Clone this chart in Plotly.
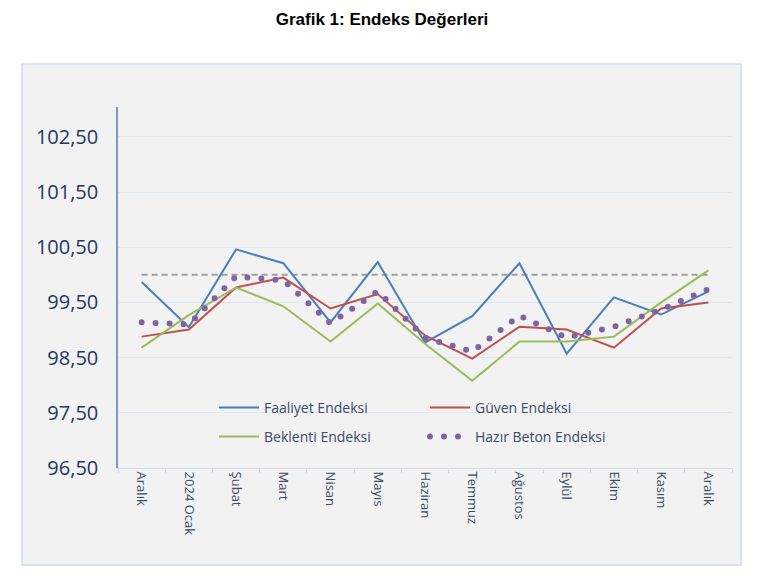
import plotly.graph_objects as go

months = ["Aralık", "2024 Ocak", "Şubat", "Mart", "Nisan", "Mayıs", "Haziran",
          "Temmuz", "Ağustos", "Eylül", "Ekim", "Kasım", "Aralık"]
faaliyet = [99.87, 99.05, 100.46, 100.21, 99.14, 100.23, 98.77, 99.25, 100.21, 98.57, 99.59, 99.28, 99.70]
guven = [98.88, 99.01, 99.77, 99.95, 99.39, 99.65, 98.90, 98.48, 99.06, 99.01, 98.68, 99.39, 99.50]
beklenti = [98.68, 99.27, 99.77, 99.43, 98.79, 99.48, 98.75, 98.08, 98.79, 98.79, 98.88, 99.50, 100.08]
hazir_beton = [99.14, 99.10, 99.97, 99.90, 99.12, 99.70, 98.86, 98.61, 99.26, 98.86, 99.06, 99.37, 99.74]
reference_level = 100.0
y_ticks = [96.5, 97.5, 98.5, 99.5, 100.5, 101.5, 102.5]

x = list(range(len(months)))
boundaries = [i - 0.5 for i in range(len(months) + 1)]

PURPLE = "rgb(128,100,162)"

fig = go.Figure()
fig.add_trace(go.Scatter(x=x, y=[reference_level] * len(months), mode="lines",
                         line=dict(color="#a0a0a0", width=2, dash="6px,4px"),
                         showlegend=False, hoverinfo="skip"))
fig.add_trace(go.Scatter(x=x, y=faaliyet, mode="lines", name="Faaliyet Endeksi",
                         line=dict(color="#4a7ebb", width=2), legend="legend"))
fig.add_trace(go.Scatter(x=x, y=guven, mode="lines", name="Güven Endeksi",
                         line=dict(color="#c0504d", width=2), legend="legend"))
fig.add_trace(go.Scatter(x=x, y=beklenti, mode="lines", name="Beklenti Endeksi",
                         line=dict(color="#9bbb59", width=2), legend="legend2"))
fig.add_trace(go.Scatter(x=x, y=hazir_beton, mode="lines", name="Hazır Beton Endeksi",
                         line=dict(color=PURPLE, width=6, dash="0px,14px"), legend="legend2"))

L, R, T, B = 118, 34, 107, 109
W, H = 766, 577
pw, ph = W - L - R, H - T - B

def px_x(p):
    return (p - L) / pw

def px_y(p):
    return (H - B - p) / ph

fig.add_shape(type="rect", xref="paper", yref="paper",
              x0=px_x(22), x1=px_x(741), y0=px_y(565), y1=px_y(64),
              fillcolor="#f2f2f2", line=dict(color="#cfdcec", width=1.5), layer="below")

legend_common = dict(orientation="h", xanchor="left", yanchor="middle",
                     bgcolor="rgba(0,0,0,0)", entrywidth=156, entrywidthmode="pixels",
                     font=dict(family="Open Sans", size=14, color="#3b4a66"),
                     itemwidth=40, tracegroupgap=0)

fig.update_layout(
    width=W, height=H,
    margin=dict(l=L, r=R, t=T, b=B),
    paper_bgcolor="white",
    plot_bgcolor="rgba(0,0,0,0)",
    separators=",.",
    title=dict(text="<b>Grafik 1: Endeks Değerleri</b>", x=382 / W, xref="container", xanchor="center",
               y=1 - 19 / H, yanchor="middle",
               font=dict(family="Liberation Sans", size=17, color="black")),
    legend=dict(x=px_x(214), y=px_y(408), **legend_common),
    legend2=dict(x=px_x(214), y=px_y(437), **legend_common),
    xaxis=dict(range=[-0.5, len(months) - 0.5], tickvals=x, ticktext=months, tickangle=90,
               showgrid=False, zeroline=False, showline=True, linecolor="#d0dae6", linewidth=1,
               ticks="", tickfont=dict(family="Open Sans", size=13, color="#3b4a66"),
               minor=dict(tickvals=boundaries, ticks="outside", ticklen=4, tickcolor="#d0dae6"),
               fixedrange=True),
    yaxis=dict(range=[96.5, 96.5 + (H - B - T) / 55.2], tickvals=y_ticks, tickformat=".2f",
               showgrid=True, gridcolor="#dfe7f1", gridwidth=1, zeroline=False,
               showline=True, linecolor="#8496c0", linewidth=1.5, ticks="",
               ticklabelstandoff=14,
               tickfont=dict(family="Open Sans", size=20, color="#1f3864"),
               fixedrange=True),
    showlegend=True,
)

post = """
document.body.style.margin = '0';
document.body.style.padding = '0';
function roundDots(){
  document.querySelectorAll('path.js-line').forEach(function(p){
    var s = p.style.stroke || p.getAttribute('stroke') || '';
    if (s.replace(/\\s/g,'').indexOf('128,100,162') >= 0) { p.style.strokeLinecap = 'round'; }
  });
}
roundDots();
var gd = document.getElementById('{plot_id}');
if (gd && gd.on) { gd.on('plotly_afterplot', roundDots); }
"""

fig.write_html("out.html", post_script=post, config={"displayModeBar": False})
